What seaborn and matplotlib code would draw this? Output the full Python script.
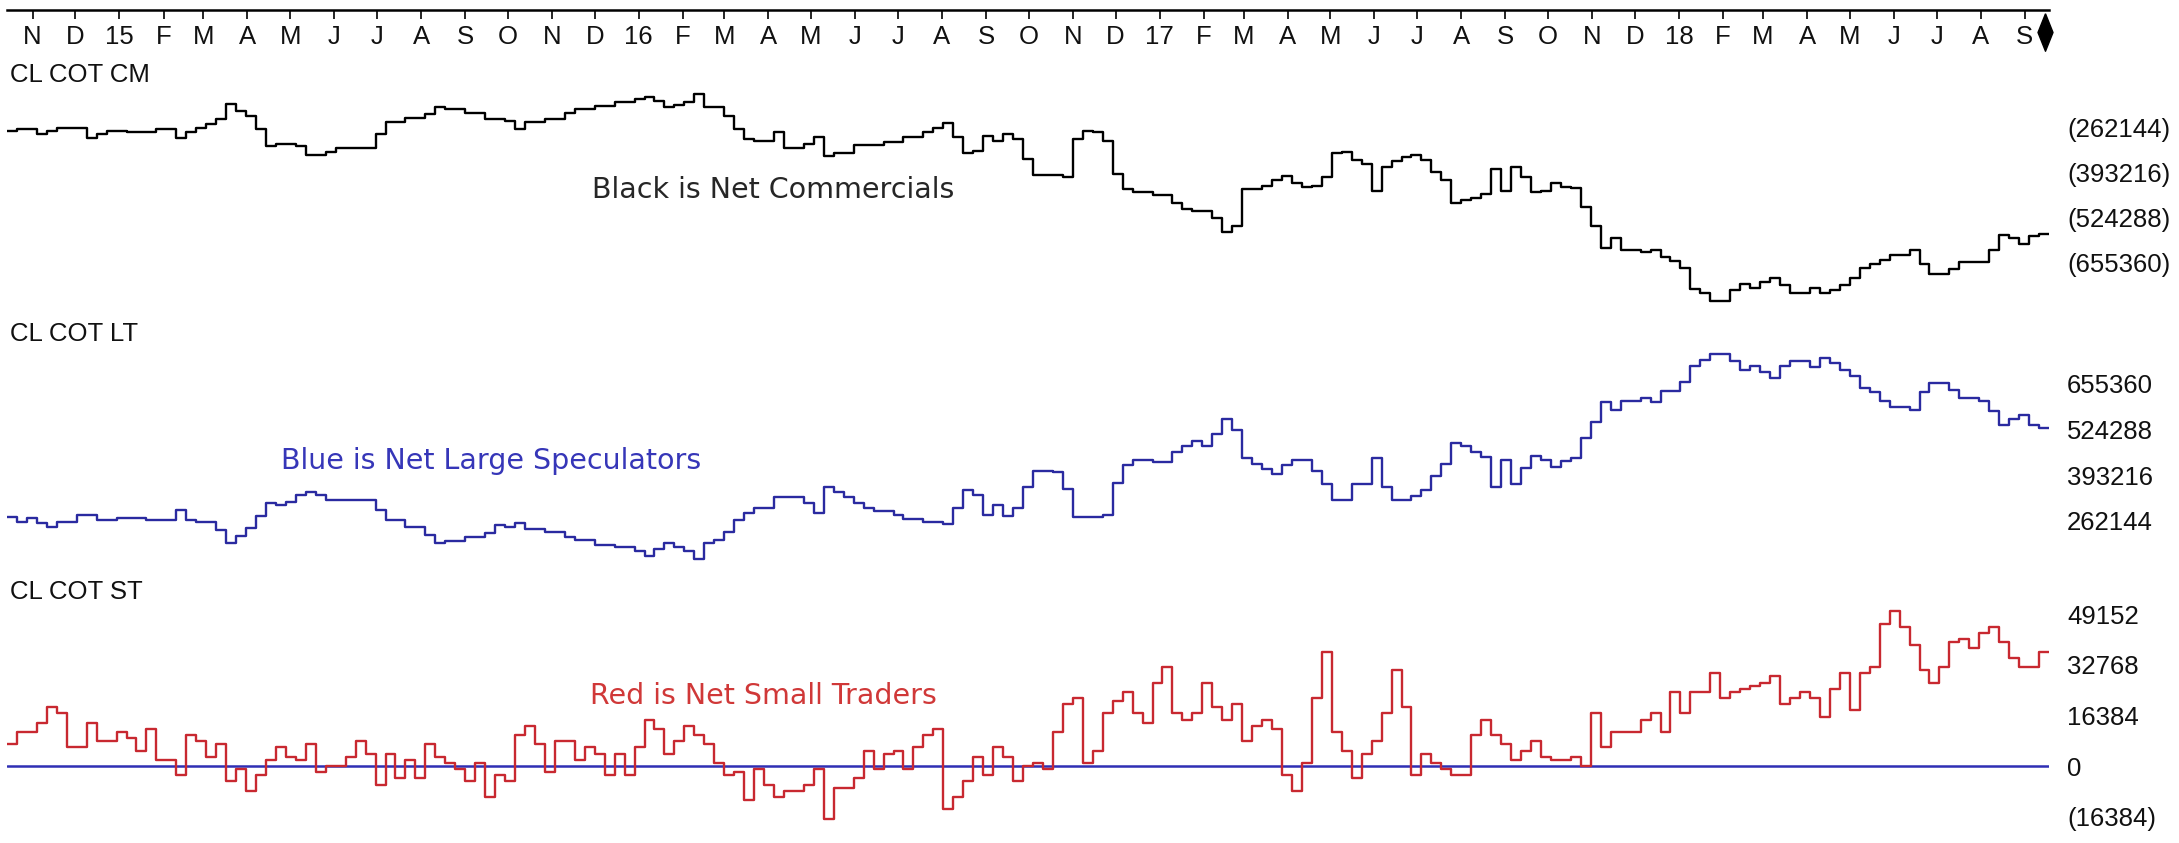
import matplotlib
matplotlib.use('Agg')
import numpy as np
import pandas as pd
import matplotlib.pyplot as plt
import matplotlib.transforms as mtransforms
import seaborn as sns

# ---------------- data (weekly, thousands of contracts) ----------------
first_week = '2014-10-14'

commercials = [
    -270, -266, -266, -280, -270, -261, -261, -261, -290, -280,
    -270, -270, -275, -275, -275, -266, -266, -290, -275, -261,
    -251, -236, -193, -212, -227, -266, -314, -309, -309, -314,
    -341, -341, -332, -319, -319, -319, -319, -280, -246, -246,
    -232, -232, -222, -202, -207, -207, -217, -217, -236, -236,
    -241, -266, -246, -246, -237, -237, -218, -207, -207, -198,
    -198, -187, -187, -179, -171, -184, -202, -195, -187, -163,
    -202, -202, -226, -265, -293, -300, -300, -273, -320, -320,
    -309, -289, -343, -336, -336, -312, -312, -312, -304, -304,
    -289, -289, -273, -262, -249, -289, -336, -328, -284, -300,
    -281, -293, -351, -398, -398, -398, -406, -293, -270, -273,
    -300, -395, -440, -450, -450, -456, -456, -481, -497, -505,
    -505, -523, -566, -547, -440, -440, -430, -414, -403, -422,
    -434, -430, -406, -336, -331, -356, -367, -445, -375, -359,
    -347, -340, -356, -390, -414, -481, -472, -466, -453, -383,
    -445, -375, -406, -450, -445, -422, -434, -437, -492, -547,
    -613, -583, -617, -617, -622, -617, -638, -649, -669, -732,
    -743, -766, -766, -735, -716, -727, -711, -700, -719, -743,
    -743, -727, -743, -735, -719, -700, -669, -657, -646, -633,
    -633, -617, -657, -688, -688, -672, -652, -652, -652, -617,
    -575, -583, -599, -578, -570,
]

large_specs = [
    273, 260, 270, 256, 244, 260, 260, 278, 278, 265,
    265, 272, 272, 272, 265, 265, 265, 294, 265, 258,
    258, 236, 198, 219, 241, 277, 315, 308, 318, 337,
    345, 337, 323, 323, 323, 323, 323, 294, 265, 265,
    244, 244, 222, 198, 206, 206, 217, 217, 229, 251,
    244, 256, 238, 238, 230, 230, 215, 207, 207, 194,
    194, 187, 187, 176, 161, 181, 199, 187, 176, 153,
    199, 207, 230, 264, 284, 299, 299, 330, 330, 330,
    315, 284, 361, 346, 330, 315, 299, 292, 292, 279,
    269, 269, 258, 258, 253, 299, 350, 338, 279, 307,
    276, 299, 361, 407, 407, 403, 353, 273, 273, 273,
    279, 372, 423, 438, 438, 431, 431, 461, 477, 492,
    477, 511, 554, 523, 443, 427, 412, 397, 423, 438,
    438, 407, 369, 323, 323, 369, 369, 443, 361, 323,
    323, 335, 350, 392, 427, 485, 477, 461, 446, 361,
    438, 369, 415, 449, 438, 418, 434, 443, 500, 546,
    603, 582, 608, 608, 616, 603, 634, 634, 662, 708,
    724, 742, 742, 721, 696, 708, 690, 673, 708, 721,
    721, 705, 731, 716, 696, 677, 644, 631, 608, 588,
    588, 582, 631, 659, 659, 639, 616, 616, 608, 577,
    539, 554, 566, 539, 528,
]

small_traders = [
    7, 11, 11, 14, 19, 17, 6, 6, 14, 8,
    8, 11, 9, 5, 12, 2, 2, -3, 10, 8,
    3, 7, -5, -1, -8, -3, 2, 6, 3, 2,
    7, -2, 0, 0, 3, 8, 4, -6, 4, -4,
    2, -4, 7, 3, 1, -1, -5, 1, -10, -3,
    -5, 10, 13, 7, -2, 8, 8, 2, 6, 4,
    -3, 4, -3, 6, 15, 12, 4, 8, 13, 10,
    7, 1, -3, -2, -11, -1, -6, -10, -8, -8,
    -6, -1, -17, -7, -7, -4, 5, -1, 4, 5,
    -1, 6, 10, 12, -14, -10, -5, 3, -3, 6,
    3, -5, 0, 1, -1, 11, 20, 22, 1, 5,
    17, 21, 24, 17, 14, 27, 32, 17, 15, 17,
    27, 19, 15, 20, 8, 13, 15, 12, -3, -8,
    1, 22, 37, 11, 5, -4, 4, 8, 17, 31,
    19, -3, 4, 1, -1, -3, -3, 10, 15, 10,
    7, 2, 5, 8, 3, 2, 2, 3, 0, 17,
    6, 11, 11, 11, 15, 17, 11, 24, 17, 24,
    24, 30, 22, 24, 25, 26, 27, 29, 20, 22,
    24, 22, 16, 25, 30, 18, 30, 32, 46, 50,
    45, 39, 31, 27, 32, 40, 41, 38, 43, 45,
    40, 35, 32, 32, 37,
]

month_labels = ['N', 'D', '15', 'F', 'M', 'A', 'M', 'J', 'J', 'A', 'S', 'O',
                'N', 'D', '16', 'F', 'M', 'A', 'M', 'J', 'J', 'A', 'S', 'O',
                'N', 'D', '17', 'F', 'M', 'A', 'M', 'J', 'J', 'A', 'S', 'O',
                'N', 'D', '18', 'F', 'M', 'A', 'M', 'J', 'J', 'A', 'S']
first_month = '2014-11-01'

cm_ticks = [-262144, -393216, -524288, -655360]
cm_ticklabels = ['(262144)', '(393216)', '(524288)', '(655360)']
lt_ticks = [655360, 524288, 393216, 262144]
lt_ticklabels = ['655360', '524288', '393216', '262144']
st_ticks = [49152, 32768, 16384, 0, -16384]
st_ticklabels = ['49152', '32768', '16384', '0', '(16384)']

panel_titles = ['CL COT CM', 'CL COT LT', 'CL COT ST']
notes = ['Black is Net Commercials', 'Blue is Net Large Speculators', 'Red is Net Small Traders']

# ---------------- styling ----------------
W, H, DPI = 2179, 843, 100
sns.set_theme(style='white')
NARROW = ['Liberation Sans', 'DejaVu Sans']
LBL_SIZE = 18.5
plt.rcParams['font.family'] = ['DejaVu Sans']

C_BLACK = '#000000'
C_BLUE = '#2a2aa0'
C_RED = '#c82830'
C_ZERO = '#2f2fb4'

n = len(commercials)
dates = pd.date_range(first_week, periods=n + 1, freq='7D')


def frame(vals):
    v = np.asarray(vals, dtype=float) * 1000.0
    v = np.append(v, v[-1])
    return pd.DataFrame({'date': dates, 'value': v})


fig = plt.figure(figsize=(W / DPI, H / DPI), dpi=DPI)
fig.patch.set_facecolor('white')

X0, X1 = 7, 2049


def rect(top, bottom):
    return [X0 / W, 1 - bottom / H, (X1 - X0) / W, (bottom - top) / H]


def limits(top, bottom, v1, p1, v2, p2):
    s = (p2 - p1) / (v2 - v1)
    return (v1 + (bottom - p1) / s, v1 + (top - p1) / s)


panels = [
    (commercials, C_BLACK, (55, 310), (cm_ticks[0], 128, cm_ticks[3], 263), cm_ticks, cm_ticklabels),
    (large_specs, C_BLUE, (310, 565), (lt_ticks[0], 384, lt_ticks[3], 521), lt_ticks, lt_ticklabels),
    (small_traders, C_RED, (565, 843), (st_ticks[0], 614, st_ticks[3], 766), st_ticks, st_ticklabels),
]

axes = []
for vals, col, (top, bot), cal, ticks, tlabels in panels:
    ax = fig.add_axes(rect(top, bot))
    ax.set_facecolor('none')
    sns.lineplot(data=frame(vals), x='date', y='value', ax=ax, color=col,
                 lw=1.7, drawstyle='steps-post', estimator=None, legend=False)
    ax.set_xlim(dates[0], dates[-1])
    ax.set_ylim(*limits(top, bot, *cal))
    for s in ax.spines.values():
        s.set_visible(False)
    ax.set_xlabel('')
    ax.set_ylabel('')
    ax.set_xticks([])
    ax.yaxis.tick_right()
    ax.set_yticks(ticks)
    ax.set_yticklabels(tlabels, fontfamily=NARROW, fontsize=LBL_SIZE, color='#111111')
    ax.tick_params(axis='y', length=0, pad=13, right=True, left=False)
    ax.grid(False)
    axes.append(ax)

axes[2].axhline(0, color=C_ZERO, lw=1.8, zorder=1)

# ---------------- timeline axis at top ----------------
ax_t = fig.add_axes(rect(9, 10))
ax_t.set_facecolor('none')
ax_t.set_xlim(dates[0], dates[-1])
ax_t.set_ylim(0, 1)
for k, s in ax_t.spines.items():
    s.set_visible(k == 'bottom')
ax_t.spines['bottom'].set_linewidth(1.8)
ax_t.spines['bottom'].set_color('black')
month_ticks = pd.date_range(first_month, periods=len(month_labels), freq='MS')
ax_t.set_xticks(month_ticks)
ax_t.set_xticklabels(month_labels, fontfamily=NARROW, fontsize=LBL_SIZE, color='#111111')
ax_t.set_yticks([])
ax_t.tick_params(axis='x', bottom=True, direction='out', length=6.5, width=1.2,
                 pad=4, color='black')
trans = mtransforms.blended_transform_factory(ax_t.transData, fig.transFigure)
ax_t.plot([dates[-1] - pd.Timedelta(days=3)], [1 - 32 / H],
          marker=[(0, 1), (0.4, 0), (0, -1), (-0.4, 0), (0, 1)], ms=27,
          color='black', transform=trans, clip_on=False)

# ---------------- texts ----------------
for title, y in zip(panel_titles, [75, 334, 592]):
    fig.text(10 / W, 1 - y / H, title, fontfamily=NARROW, fontsize=LBL_SIZE,
             color='#111111', ha='left', va='center')

fig.text(773 / W, 1 - 190 / H, notes[0], fontsize=20.5, color='#262626', ha='center', va='center')
fig.text(491 / W, 1 - 461 / H, notes[1], fontsize=20.5, color='#3636b8', ha='center', va='center')
fig.text(763 / W, 1 - 696 / H, notes[2], fontsize=20.5, color='#d03838', ha='center', va='center')

fig.savefig('out.png', dpi=DPI, facecolor='white')
